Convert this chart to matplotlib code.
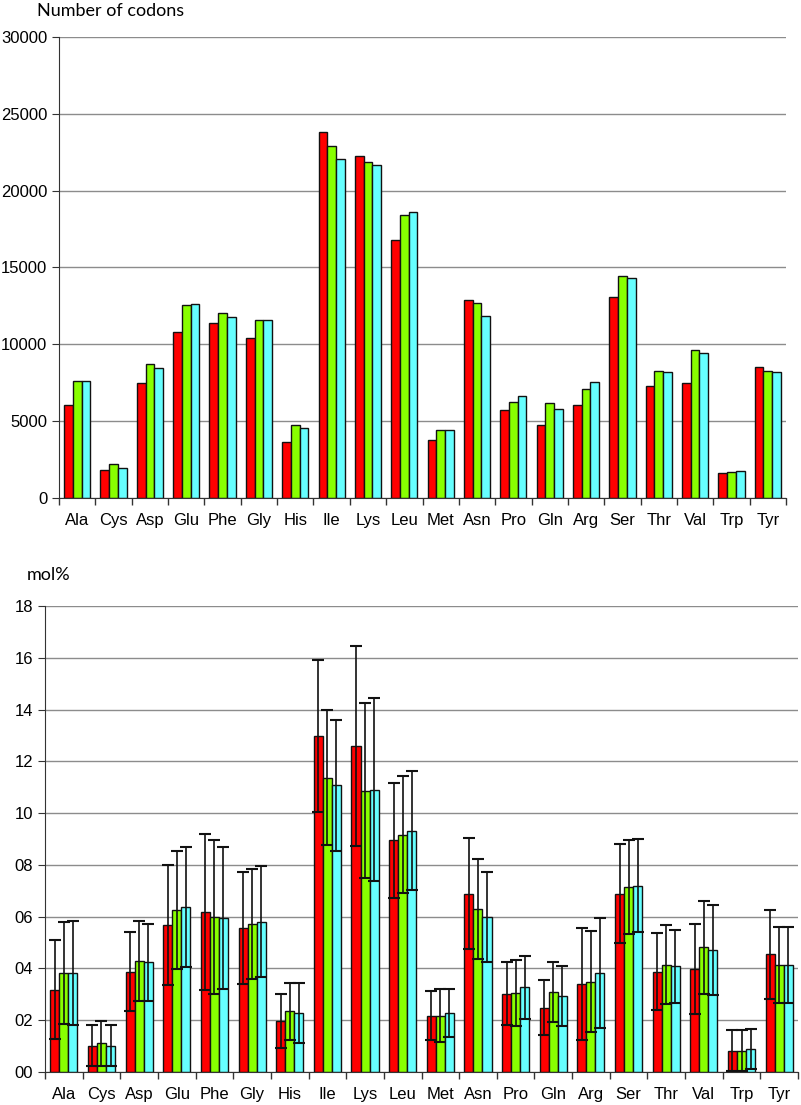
"""Codon counts and amino acid mol% per group (out.png)."""

import matplotlib

matplotlib.use("Agg")
import matplotlib.pyplot as plt
import numpy as np

plt.rcParams["font.family"] = ["Liberation Sans", "DejaVu Sans"]

amino_acids = ["Ala", "Cys", "Asp", "Glu", "Phe", "Gly", "His", "Ile", "Lys", "Leu",
               "Met", "Asn", "Pro", "Gln", "Arg", "Ser", "Thr", "Val", "Trp", "Tyr"]

# number of codons, three series
codons_red = [6065, 1798, 7473, 10787, 11393, 10418, 3660, 23848, 22266, 16780,
              3769, 12909, 5697, 4744, 6065, 13104, 7299, 7494, 1625, 8556]
codons_green = [7646, 2231, 8729, 12541, 12021, 11566, 4722, 22895, 21898, 18390,
                4440, 12714, 6238, 6151, 7061, 14426, 8296, 9617, 1711, 8296]
codons_cyan = [7646, 1950, 8469, 12650, 11761, 11566, 4549, 22072, 21638, 18584,
               4440, 11848, 6606, 5805, 7581, 14339, 8209, 9444, 1776, 8209]

# mol% mean and standard deviation, three series
mol_red = [3.18, 1.02, 3.87, 5.67, 6.18, 5.56, 1.97, 12.98, 12.60, 8.95,
           2.18, 6.89, 3.02, 2.49, 3.39, 6.89, 3.87, 3.98, 0.83, 4.54]
sd_red = [1.91, 0.79, 1.53, 2.32, 3.02, 2.18, 1.04, 2.95, 3.87, 2.21,
          0.94, 2.15, 1.21, 1.06, 2.17, 1.90, 1.48, 1.74, 0.81, 1.71]
mol_green = [3.82, 1.11, 4.29, 6.25, 5.98, 5.72, 2.34, 11.37, 10.87, 9.16,
             2.18, 6.30, 3.06, 3.08, 3.49, 7.15, 4.14, 4.82, 0.83, 4.14]
sd_green = [1.96, 0.86, 1.54, 2.28, 2.97, 2.13, 1.10, 2.60, 3.37, 2.26,
            1.04, 1.92, 1.28, 1.15, 1.95, 1.81, 1.53, 1.79, 0.81, 1.46]
mol_cyan = [3.82, 1.02, 4.23, 6.37, 5.95, 5.80, 2.28, 11.07, 10.91, 9.32,
            2.28, 5.98, 3.28, 2.92, 3.82, 7.20, 4.08, 4.72, 0.90, 4.14]
sd_cyan = [2.01, 0.78, 1.49, 2.31, 2.73, 2.14, 1.16, 2.54, 3.53, 2.29,
           0.94, 1.74, 1.22, 1.16, 2.12, 1.80, 1.41, 1.73, 0.78, 1.46]

COLORS = ["#ff0000", "#88ff00", "#66ffff"]
W, H = 801, 1105


def style_axes(ax, n):
    ax.set_xlim(-0.5, n - 0.5)
    for s in ("top", "right"):
        ax.spines[s].set_visible(False)
    ax.spines["left"].set_color("#333333")
    ax.spines["bottom"].set_color("#333333")
    ax.yaxis.grid(True, color="#8c8c8c", lw=1)
    ax.set_axisbelow(True)
    ax.set_xticks(np.arange(n))
    ax.set_xticklabels(amino_acids, fontsize=12)
    ax.set_xticks(np.arange(n + 1) - 0.5, minor=True)
    ax.tick_params(axis="x", which="major", length=0, pad=11)
    ax.tick_params(axis="x", which="minor", length=5, color="#333333", width=1)
    ax.tick_params(axis="y", length=5, color="#333333", labelsize=12)


fig = plt.figure(figsize=(W / 100, H / 100), dpi=100, facecolor="white")
x = np.arange(len(amino_acids))
bw = 0.24

# top panel: codon counts
ax1 = fig.add_axes([59 / W, 1 - 498 / H, (786 - 59) / W, (498 - 37) / H])
for i, vals in enumerate([codons_red, codons_green, codons_cyan]):
    ax1.bar(x + (i - 1) * bw, vals, bw, color=COLORS[i], edgecolor="#111111", lw=1, zorder=2)
ax1.set_ylim(0, 30000)
ax1.set_yticks(np.arange(0, 30001, 5000))
style_axes(ax1, len(amino_acids))
fig.text(37 / W, 1 - 11 / H, "Number of codons", fontsize=13, family=["Lato", "DejaVu Sans"],
         va="center")

# bottom panel: mol% with error bars
ax2 = fig.add_axes([45 / W, 1 - 1072 / H, (798 - 45) / W, (1072 - 606) / H])
for i, (vals, sd) in enumerate([(mol_red, sd_red), (mol_green, sd_green), (mol_cyan, sd_cyan)]):
    xs = x + (i - 1) * bw
    ax2.bar(xs, vals, bw, color=COLORS[i], edgecolor="#111111", lw=1, zorder=2)
    ax2.errorbar(xs, vals, yerr=sd, fmt="none", ecolor="#111111", elinewidth=1.2,
                 capsize=4.5, capthick=1.5, zorder=3)
ax2.set_ylim(0, 18)
ticks = np.arange(0, 19, 2)
ax2.set_yticks(ticks)
ax2.set_yticklabels([f"{t:02d}" for t in ticks])
style_axes(ax2, len(amino_acids))
fig.text(27 / W, 1 - 575 / H, "mol%", fontsize=13, family=["Lato", "DejaVu Sans"], va="center")

fig.savefig("out.png", dpi=100, facecolor="white")
plt.close(fig)
